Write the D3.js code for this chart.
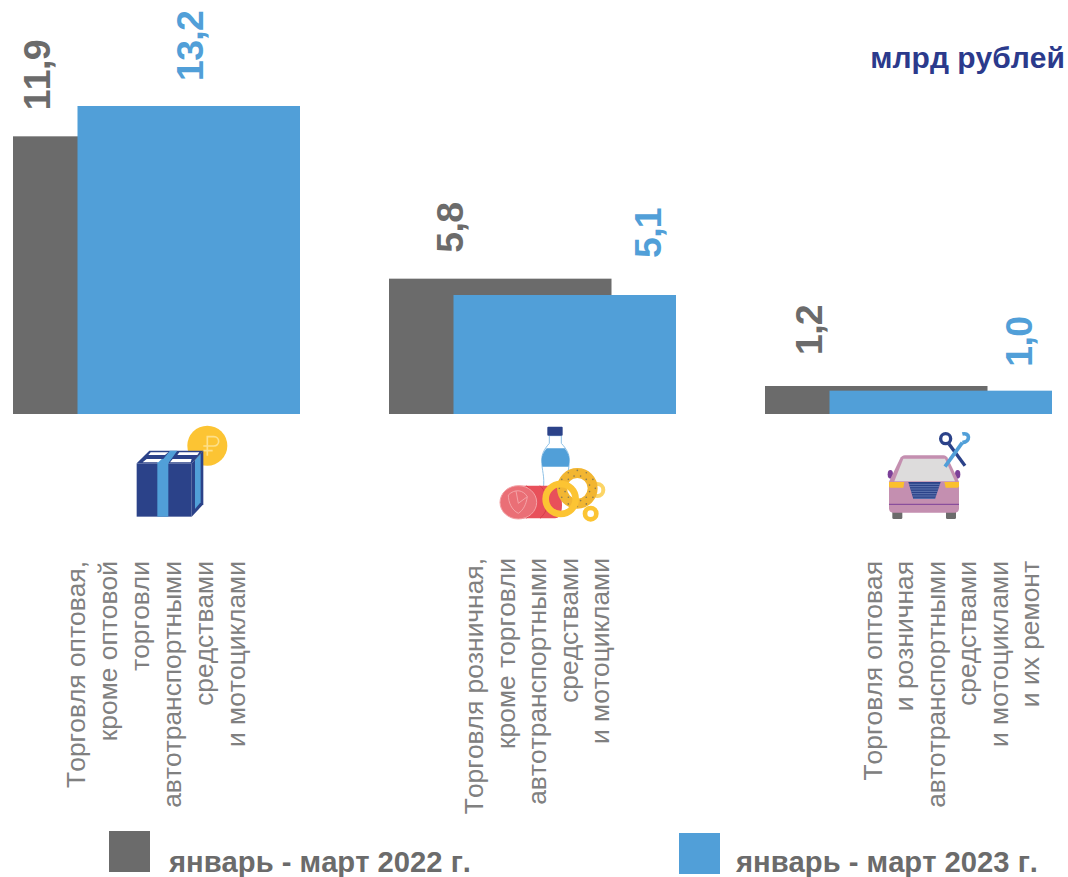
<!DOCTYPE html>
<html>
<head>
<meta charset="utf-8">
<script src="https://cdn.jsdelivr.net/npm/d3@7"></script>
<style>
    html, body { margin: 0; padding: 0; background: #fff; overflow: hidden; }
    text { font-family: "Liberation Sans", Arial, sans-serif; font-kerning: none; }
</style>
</head>
<body>
<svg id="svg1" width="1068" height="877"></svg>
<script>
var categories = ["wholesale", "retail", "auto"];
var seriesNames = ["январь - март 2022 г.", "январь - март 2023 г."];
var values2022 = [11.9, 5.8, 1.2];
var values2023 = [13.2, 5.1, 1.0];
var categoryLines = [
    ["Торговля оптовая,", "кроме оптовой", "торговли", "автотранспортными", "средствами", "и мотоциклами"],
    ["Торговля розничная,", "кроме торговли", "автотранспортными", "средствами", "и мотоциклами"],
    ["Торговля оптовая", "и розничная", "автотранспортными", "средствами", "и мотоциклами", "и их ремонт"]
];
var unitLabel = "млрд рублей";

var grey = "#6b6b6b";
var blue = "#519fd8";
var navy = "#2b4289";
var textGrey = "#808080";
var seriesColors = [grey, blue];

var svg = d3.select("#svg1");
var baseY = 414;
var barWidth = 222.5;

var x = d3.scaleBand().domain(categories).range([13, 13 + 376 * 3]);
var offset = d3.scaleOrdinal().domain([0, 1]).range([0, 64.5]);
var y = d3.scaleLinear().domain([0, 13.2]).range([baseY, 106]);
var fmt = function(v) { return d3.format(".1f")(v).replace(".", ","); };

// bars and value labels, grey series first so blue sits on top
var valueX = [[50, 463, 822], [203, 661, 1032]];
var valueGap = [[26, 26, 31], [25, 37, 24]];

[values2022, values2023].forEach(function(vals, s) {
    svg.append("g").selectAll("rect")
        .data(vals)
        .enter()
        .append("rect")
        .attr("x", function(d, i) { return x(categories[i]) + offset(s); })
        .attr("y", function(d) { return y(d); })
        .attr("width", barWidth)
        .attr("height", function(d) { return baseY - y(d); })
        .style("fill", seriesColors[s]);

    svg.append("g").selectAll("text")
        .data(vals)
        .enter()
        .append("text")
        .attr("transform", function(d, i) {
            return "translate(" + valueX[s][i] + "," + (y(d) - valueGap[s][i]) + ") rotate(-90)";
        })
        .style("font-size", "37.5px")
        .style("letter-spacing", "-0.7px")
        .style("font-weight", "bold")
        .style("fill", seriesColors[s])
        .text(fmt);
});

// category labels, rotated and aligned at the top
var lineStart = [85, 483, 882];
var lineTop = [561, 558, 561];
var lineStep = [32, 31.6, 31.4];

categoryLines.forEach(function(lines, c) {
    svg.append("g").selectAll("text")
        .data(lines)
        .enter()
        .append("text")
        .attr("transform", function(d, i) {
            return "translate(" + (lineStart[c] + i * lineStep[c]) + "," + lineTop[c] + ") rotate(-90)";
        })
        .attr("text-anchor", "end")
        .style("font-size", "26.4px")
        .style("fill", textGrey)
        .text(function(d) { return d; });
});

// unit
svg.append("text")
    .attr("x", 1065)
    .attr("y", 68)
    .attr("text-anchor", "end")
    .style("font-size", "30px")
    .style("font-weight", "bold")
    .style("fill", "#2b3a8c")
    .text(unitLabel);

// legend
var legendBox = [[109, 831], [679, 833]];
var legendText = [[169, 872], [736, 872]];
seriesNames.forEach(function(name, s) {
    svg.append("rect")
        .attr("x", legendBox[s][0])
        .attr("y", legendBox[s][1])
        .attr("width", 41)
        .attr("height", 41)
        .style("fill", seriesColors[s]);
    svg.append("text")
        .attr("x", legendText[s][0])
        .attr("y", legendText[s][1])
        .style("font-size", "29.2px")
        .style("font-weight", "bold")
        .style("fill", grey)
        .text(name);
});

// icons, drawn at 3x and scaled down
function icon(ox, oy) {
    return svg.append("g").attr("transform", "translate(" + ox + "," + oy + ") scale(0.3333)");
}

var gift = icon(120, 415);
gift.append("circle").attr("cx", 262).attr("cy", 92).attr("r", 60).style("fill", "#fcc433");
gift.append("path").attr("d", "M262 122V65H282A14 14 0 0 1 282 93H250M250 107H278")
    .style("fill", "none").style("stroke", "#fde08a").style("stroke-width", 5);
gift.append("path").attr("d", "M50 145L88 107H250L215 145Z").style("fill", navy);
gift.append("path").attr("d", "M215 145L250 107V268L215 305Z").style("fill", navy);
gift.append("path").attr("d", "M225 135L242 116V262L225 282Z").style("fill", blue);
gift.append("rect").attr("x", 50).attr("y", 145).attr("width", 165).attr("height", 160).style("fill", navy);
gift.append("rect").attr("x", 112).attr("y", 132).attr("width", 33).attr("height", 173).style("fill", blue);
gift.append("path").attr("d", "M130 132L150 107H172L145 145H112Z").style("fill", blue);
gift.append("path").attr("d", "M68 142L80 132H125L115 142ZM85 120L92 112H145L135 120ZM150 142L158 132H215L212 142ZM172 120L178 112H238L232 120Z")
    .style("fill", "#fff");

var food = icon(490, 415);
food.append("path").attr("d", "M178 62H214V85C228 100 238 115 238 135C238 165 228 185 232 220H160C165 185 155 165 155 135C155 115 165 100 178 85Z")
    .style("fill", "#fff").style("stroke", "#8fc1e6").style("stroke-width", 3);
food.append("path").attr("d", "M170 100H224C233 112 238 122 238 135C238 142 237 149 236 155H157C156 149 155 142 155 135C155 122 160 112 170 100Z")
    .style("fill", blue);
food.append("rect").attr("x", 172).attr("y", 35).attr("width", 46).attr("height", 27).attr("rx", 3).style("fill", navy);
food.append("path").attr("d", "M85 212H195C215 212 230 310 195 310H85Z").style("fill", "#e8505a");
food.append("path").attr("d", "M110 212C140 240 140 285 110 310M150 212C180 240 180 285 150 310")
    .style("fill", "none").style("stroke", "#d63a48").style("stroke-width", 3);
food.append("ellipse").attr("cx", 85).attr("cy", 262).attr("rx", 55).attr("ry", 50)
    .style("fill", "#ea6f76").style("stroke", "#f3a3a7").style("stroke-width", 3);
food.append("path").attr("d", "M55 240C75 220 100 225 112 245C108 270 100 285 85 295M55 240C55 262 65 285 85 295M78 228L85 265L112 245")
    .style("fill", "none").style("stroke", "#f3a3a7").style("stroke-width", 3);
food.append("circle").attr("cx", 322).attr("cy", 225).attr("r", 18).style("fill", "none").style("stroke", "#fcd566").style("stroke-width", 12);
food.append("circle").attr("cx", 262).attr("cy", 220).attr("r", 46).style("fill", "none").style("stroke", "#f2b632").style("stroke-width", 30);
food.selectAll(".seed")
    .data(d3.range(0, 360, 15))
    .enter()
    .append("circle")
    .attr("class", "seed")
    .attr("cx", function(d) { return 262 + (d % 30 ? 38 : 54) * Math.cos(d * Math.PI / 180); })
    .attr("cy", function(d) { return 220 + (d % 30 ? 38 : 54) * Math.sin(d * Math.PI / 180); })
    .attr("r", 2.5)
    .style("fill", "#8a7a50");
food.append("circle").attr("cx", 212).attr("cy", 252).attr("r", 45).style("fill", "none").style("stroke", "#fcc433").style("stroke-width", 20);
food.append("circle").attr("cx", 302).attr("cy", 296).attr("r", 17).style("fill", "none").style("stroke", "#fcc433").style("stroke-width", 14);

var car = icon(875, 420);
car.append("ellipse").attr("cx", 46).attr("cy", 163).attr("rx", 8).attr("ry", 13).style("fill", "#7b3f98");
car.append("ellipse").attr("cx", 248).attr("cy", 163).attr("rx", 8).attr("ry", 13).style("fill", "#7b3f98");
car.append("rect").attr("x", 52).attr("y", 270).attr("width", 30).attr("height", 27).attr("rx", 4).style("fill", grey);
car.append("rect").attr("x", 213).attr("y", 270).attr("width", 30).attr("height", 27).attr("rx", 4).style("fill", grey);
car.append("path").attr("d", "M90 106H205C212 106 216 110 219 116L252 185V265C252 273 248 278 240 278H54C46 278 42 273 42 265V185L75 116C78 110 83 106 90 106Z")
    .style("fill", "#c48fb0");
car.append("path").attr("d", "M85 116H210L240 184H58Z").style("fill", "#dddcdc");
car.append("path").attr("d", "M42 186H88L85 203H46C43 203 42 200 42 198Z").style("fill", "#fbc02d");
car.append("path").attr("d", "M208 186H252V198C252 200 250 203 248 203H212Z").style("fill", "#fbc02d");
car.append("path").attr("d", "M100 186H197L180 237H115Z").style("fill", navy);
car.selectAll(".slat")
    .data(d3.range(193, 236, 7))
    .enter()
    .append("line")
    .attr("class", "slat")
    .attr("x1", function(d) { return 100 + (d - 186) * 0.3; })
    .attr("x2", function(d) { return 197 - (d - 186) * 0.33; })
    .attr("y1", function(d) { return d; })
    .attr("y2", function(d) { return d; })
    .style("stroke", "#7d92c4")
    .style("stroke-width", 2);
car.append("line").attr("x1", 42).attr("x2", 252).attr("y1", 253).attr("y2", 253).style("stroke", "#7b3f98").style("stroke-width", 3);
car.append("line").attr("x1", 270).attr("y1", 137).attr("x2", 222).attr("y2", 72).style("stroke", navy).style("stroke-width", 10);
car.append("circle").attr("cx", 212).attr("cy", 56).attr("r", 15).style("fill", "none").style("stroke", navy).style("stroke-width", 10);
car.append("line").attr("x1", 210).attr("y1", 140).attr("x2", 262).attr("y2", 68).style("stroke", blue).style("stroke-width", 11);
car.append("path").attr("d", "M262 42C285 36 288 65 262 68").style("fill", "none").style("stroke", blue).style("stroke-width", 11);
</script>
</body>
</html>
